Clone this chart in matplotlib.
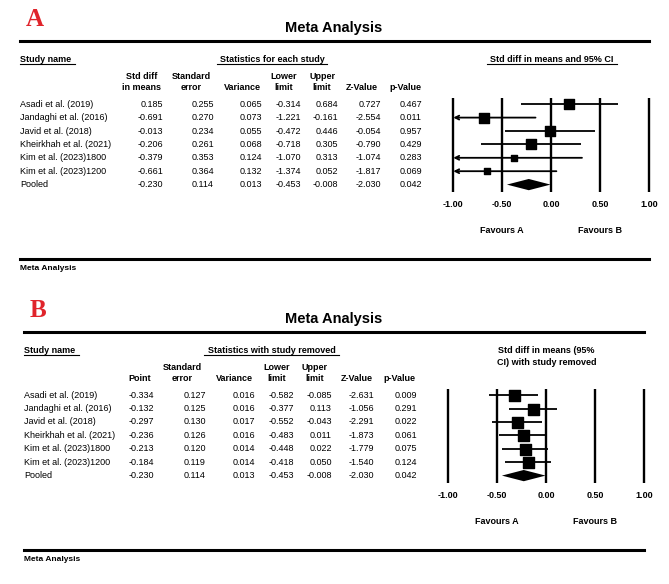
import numpy as np
import matplotlib
matplotlib.use("Agg")
import matplotlib.pyplot as plt
from matplotlib.lines import Line2D

W, H = 669, 584
plt.rcParams['font.family'] = ['Liberation Sans', 'DejaVu Sans']

# ---- data ----
studies = ["Asadi et al. (2019)", "Jandaghi et al. (2016)", "Javid et al. (2018)",
           "Kheirkhah et al. (2021)", "Kim et al. (2023)1800", "Kim et al. (2023)1200",
           "Pooled"]

# panel A: statistics for each study
est_a = [0.185, -0.691, -0.013, -0.206, -0.379, -0.661, -0.230]
se_a = [0.255, 0.270, 0.234, 0.261, 0.353, 0.364, 0.114]
var_a = [0.065, 0.073, 0.055, 0.068, 0.124, 0.132, 0.013]
lo_a = [-0.314, -1.221, -0.472, -0.718, -1.070, -1.374, -0.453]
hi_a = [0.684, -0.161, 0.446, 0.305, 0.313, 0.052, -0.008]
z_a = [0.727, -2.554, -0.054, -0.790, -1.074, -1.817, -2.030]
p_a = [0.467, 0.011, 0.957, 0.429, 0.283, 0.069, 0.042]

# panel B: statistics with study removed
est_b = [-0.334, -0.132, -0.297, -0.236, -0.213, -0.184, -0.230]
se_b = [0.127, 0.125, 0.130, 0.126, 0.120, 0.119, 0.114]
var_b = [0.016, 0.016, 0.017, 0.016, 0.014, 0.014, 0.013]
lo_b = [-0.582, -0.377, -0.552, -0.483, -0.448, -0.418, -0.453]
hi_b = [-0.085, 0.113, -0.043, 0.011, 0.022, 0.050, -0.008]
z_b = [-2.631, -1.056, -2.291, -1.873, -1.779, -1.540, -2.030]
p_b = [0.009, 0.291, 0.022, 0.061, 0.075, 0.124, 0.042]

xticks = [-1.0, -0.5, 0.0, 0.5, 1.0]
tick_labels = ["-1.00", "-0.50", "0.00", "0.50", "1.00"]

fig = plt.figure(figsize=(W / 100, H / 100), dpi=100)


def fx(x):
    return x / W


def fy(y):
    return 1 - y / H


def txt(x, y, s, **kw):
    kw.setdefault('fontsize', 6.5)
    kw.setdefault('va', 'center')
    fig.text(fx(x), fy(y), s, **kw)


def hline(x0, x1, y, lw):
    fig.add_artist(Line2D([fx(x0), fx(x1)], [fy(y), fy(y)], color='black', lw=lw))


def panel(letter, y0, xl, xr, headers, hdr_x, val_x, columns, est, var, lo, hi,
          group_title, group_c, group_ul, plot_title, title_ul, xpos, sizes):
    # y0: pixel y of the thick top line
    txt(xl + 5.5, y0 - 21, letter, fontsize=18, fontweight='bold', color='#e0242b',
        family='Liberation Serif')
    txt(334, y0 - 13, "Meta Analysis", fontsize=10.5, fontweight='bold', ha='center')
    hline(xl, xr, y0, 2.2)

    # section headers
    txt(xl, y0 + 19, "Study name", fontweight='bold')
    hline(xl, xl + 55, y0 + 23.5, 0.8)
    txt(group_c, y0 + 19, group_title, fontweight='bold', ha='center')
    hline(group_ul[0], group_ul[1], y0 + 23.5, 0.8)

    for h, cx in zip(headers, hdr_x):
        lines = h.split("\n")
        if len(lines) == 2:
            txt(cx, y0 + 36, lines[0], fontweight='bold', ha='center')
        txt(cx, y0 + 47, lines[-1], fontweight='bold', ha='center')

    row_y = y0 + 63.5 + 13.4 * np.arange(len(studies))
    for i, name in enumerate(studies):
        txt(xl, row_y[i], name)
        for col, vx in zip(columns, val_x):
            txt(vx, row_y[i], "%.3f" % col[i], ha='right')

    # forest plot
    x_m1, x_p1 = xpos
    top, bot = y0 + 57, y0 + 151
    ax = fig.add_axes([fx(x_m1), fy(bot), fx(x_p1 - x_m1), (bot - top) / H])
    ax.set_xlim(-1, 1)
    pitch = 13.4
    ax.set_ylim((bot - row_y[0]) / pitch, (top - row_y[0]) / pitch)
    for s in ax.spines.values():
        s.set_visible(False)
    ax.set_yticks([])
    ax.set_xticks(xticks)
    ax.set_xticklabels(tick_labels, fontweight='bold', fontsize=6.5)
    ax.tick_params(axis='x', length=0, pad=6)
    ax.patch.set_alpha(0)
    ax.vlines(xticks, *ax.get_ylim(), colors='black', lw=1.7, clip_on=False)

    n = len(studies) - 1
    for i in range(n):
        l, h = max(lo[i], -1), min(hi[i], 1)
        if lo[i] < -1:
            ax.annotate('', xy=(-1, i), xytext=(h, i),
                        arrowprops=dict(arrowstyle='->', lw=1.3, color='black',
                                        shrinkA=0, shrinkB=0, mutation_scale=7))
        else:
            ax.plot([l, h], [i, i], color='black', lw=1.3, solid_capstyle='butt')
        ax.scatter([est[i]], [i], marker='s', s=(sizes[i] * 0.72) ** 2,
                   color='black', zorder=3, clip_on=False)
    # pooled diamond
    dh = 0.42
    ax.fill([lo[n], est[n], hi[n], est[n]], [n, n - dh, n, n + dh], color='black',
            lw=0, zorder=3)

    txt((x_m1 + x_p1) / 2 - 98 * 0.5, y0 + 190, "Favours A", fontweight='bold', ha='center')
    txt((x_m1 + x_p1) / 2 + 98 * 0.5, y0 + 190, "Favours B", fontweight='bold', ha='center')

    c = (x_m1 + x_p1) / 2
    t_lines = plot_title.split("\n")
    if len(t_lines) == 1:
        txt(c, y0 + 19, plot_title, fontweight='bold', ha='center')
        hline(title_ul[0], title_ul[1], y0 + 23.5, 0.8)
    else:
        txt(c, y0 + 19, t_lines[0], fontweight='bold', ha='center')
        txt(c, y0 + 31, t_lines[1], fontweight='bold', ha='center')

    # footer
    hline(xl, xr, y0 + 218, 2.2)
    txt(xl, y0 + 227.5, "Meta Analysis", fontsize=6, fontweight='bold')


sizes_a = [10.5 * np.sqrt(0.055 / v) for v in var_a]
panel("A", 40.7, 20, 649,
      ["Std diff\nin means", "Standard\nerror", "Variance", "Lower\nlimit",
       "Upper\nlimit", "Z-Value", "p-Value"],
      [142, 191, 242, 284, 322, 362, 405],
      [163, 214, 262, 301, 338, 381, 422],
      [est_a, se_a, var_a, lo_a, hi_a, z_a, p_a],
      est_a, var_a, lo_a, hi_a,
      "Statistics for each study", 272, (217, 327),
      "Std diff in means and 95% CI", (487, 617),
      (453.3, 649.3), sizes_a)

sizes_b = [11] * len(var_b)
panel("B", 331.7, 24, 644,
      ["Point", "Standard\nerror", "Variance", "Lower\nlimit",
       "Upper\nlimit", "Z-Value", "p-Value"],
      [140, 182, 234, 277, 315, 357, 399],
      [154, 206, 255, 294, 332, 374, 417],
      [est_b, se_b, var_b, lo_b, hi_b, z_b, p_b],
      est_b, var_b, lo_b, hi_b,
      "Statistics with study removed", 272, (204, 339),
      "Std diff in means (95%\nCI) with study removed", None,
      (448.3, 644.3), sizes_b)

fig.savefig("out.png", dpi=100)
